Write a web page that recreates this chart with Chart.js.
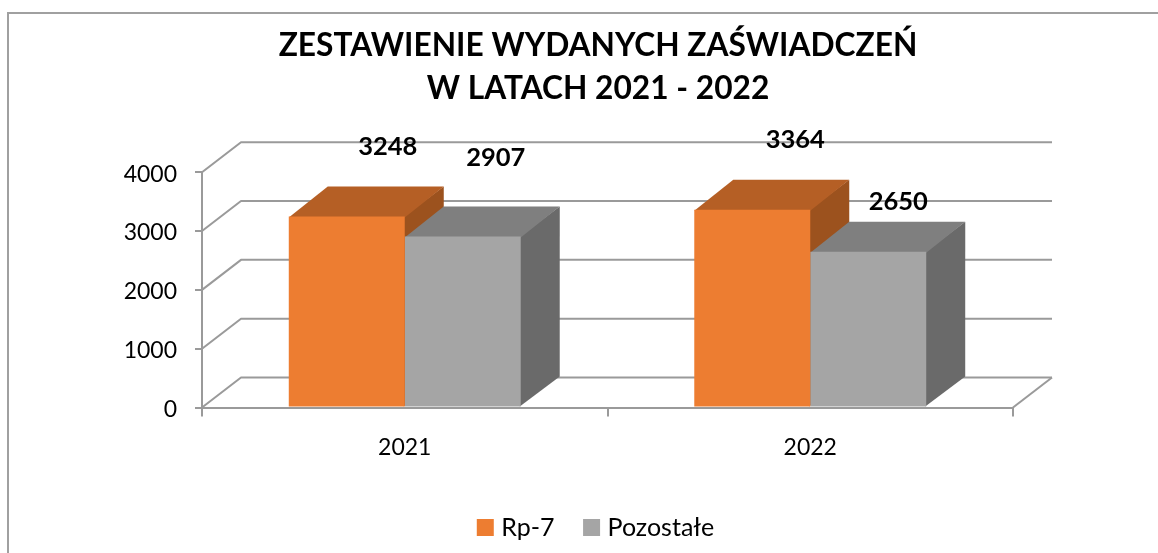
<!DOCTYPE html>
<html><head><meta charset="utf-8">
<style>html,body{margin:0;padding:0;background:#fff}#w{width:1158px;height:553px;position:relative}</style>
<script src="https://cdn.jsdelivr.net/npm/chart.js@4"></script></head>
<body><div id="w"><canvas id="c"></canvas></div>
<script>
const categories = ['2021', '2022'];
const rp7 = [3248, 3364];
const pozostale = [2907, 2650];
const seriesNames = ['Rp-7', 'Pozostałe'];
const titleLines = ['ZESTAWIENIE WYDANYCH ZAŚWIADCZEŃ', 'W LATACH 2021 - 2022'];

const FONT = 'Lato, Carlito, Calibri, sans-serif';
const DX = 39, DY = 30;
const LINE = '#9a9a9a';
const shades = [{top:'#B55F25', side:'#9C521E'}, {top:'#7F7F7F', side:'#6A6A6A'}];
// label offsets from the bar's top centre, per dataset and category
const labelShift = [[[41,-70],[43,-70]], [[33,-79],[30,-50]]];

const scene = {
  id:'scene',
  beforeDraw(ch){
    const c = ch.ctx;
    c.save();
    c.fillStyle='#fff'; c.fillRect(0,0,ch.width,ch.height);
    c.strokeStyle='#a0a0a0'; c.lineWidth=2;
    c.beginPath(); c.moveTo(8,ch.height); c.lineTo(8,13); c.lineTo(ch.width,13); c.stroke();
    c.restore();
  },
  beforeDatasetsDraw(ch){
    const c = ch.ctx, a = ch.chartArea, y = ch.scales.y;
    c.save();
    c.strokeStyle=LINE; c.lineWidth=2; c.lineJoin='round';
    y.ticks.forEach(t=>{
      const p = y.getPixelForValue(t.value);
      c.beginPath(); c.moveTo(a.left,p); c.lineTo(a.left+DX,p-DY); c.lineTo(a.right+DX,p-DY); c.stroke();
    });
    const b0 = y.getPixelForValue(0);
    c.beginPath(); c.moveTo(a.right,b0); c.lineTo(a.right+DX,b0-DY); c.stroke();
    for(let k=0;k<categories.length;k++){
      ch.data.datasets.forEach((d,i)=>{
        const el = ch.getDatasetMeta(i).data[k];
        const l = el.x-el.width/2, r = el.x+el.width/2, t = el.y, b = el.base;
        c.fillStyle = shades[i].side;
        c.beginPath(); c.moveTo(r-1,t); c.lineTo(r+DX,t-DY); c.lineTo(r+DX,b-DY); c.lineTo(r-1,b); c.closePath(); c.fill();
        c.fillStyle = shades[i].top;
        c.beginPath(); c.moveTo(l,t+1); c.lineTo(l+DX,t-DY); c.lineTo(r+DX,t-DY); c.lineTo(r,t+1); c.closePath(); c.fill();
      });
    }
    c.restore();
  },
  afterDatasetsDraw(ch){
    const c = ch.ctx;
    c.save();
    c.font = 'bold 25.5px '+FONT; c.fillStyle='#000'; c.textAlign='center'; c.textBaseline='middle';
    ch.data.datasets.forEach((d,i)=>{
      ch.getDatasetMeta(i).data.forEach((el,k)=>{
        const s = labelShift[i][k];
        c.fillText(String(d.data[k]), el.x+s[0], el.y+s[1]);
      });
    });
    c.restore();
  }
};

Chart.defaults.font.family = FONT;
new Chart(document.getElementById('c'),{
  type:'bar',
  plugins:[scene],
  data:{labels:categories,datasets:[
    {label:seriesNames[0],data:rp7,backgroundColor:'#ED7D31',barPercentage:1,categoryPercentage:0.572},
    {label:seriesNames[1],data:pozostale,backgroundColor:'#A5A5A5',barPercentage:1,categoryPercentage:0.572}
  ]},
  options:{
    responsive:true,maintainAspectRatio:false,animation:false,
    layout:{padding:{left:38,right:0,top:24,bottom:3}},
    plugins:{
      tooltip:{enabled:false},
      title:{display:true,text:titleLines,color:'#000',font:{size:31.7,weight:'bold',lineHeight:1.36},padding:{top:0,bottom:62}},
      legend:{position:'bottom',labels:{boxWidth:7,boxHeight:7,color:'#000',font:{size:25},padding:33.5,
        generateLabels(ch){
          return Chart.defaults.plugins.legend.labels.generateLabels(ch).map(it=>({...it,strokeStyle:it.fillStyle,lineWidth:10}));
        }}}
    },
    scales:{
      y:{min:0,max:4000,ticks:{stepSize:1000,autoSkip:false,color:'#000',font:{size:23,lineHeight:'4px'},padding:18,callback:v=>['',String(v)]},
        grid:{drawOnChartArea:false,drawTicks:true,tickLength:7,color:LINE,lineWidth:2},
        border:{display:true,color:LINE,width:2},
        afterFit(s){s.width=164;}},
      gutter:{position:'right',grid:{display:false},border:{display:false},ticks:{display:false},
        afterFit(s){s.width=145;}},
      x:{offset:true,ticks:{color:'#000',font:{size:23},padding:17},
        grid:{offset:true,drawOnChartArea:false,drawTicks:true,tickLength:9,color:LINE,lineWidth:2},
        border:{display:true,color:LINE,width:2},
        afterFit(s){s.height=74;}}
    }
  }
});
</script></body></html>
